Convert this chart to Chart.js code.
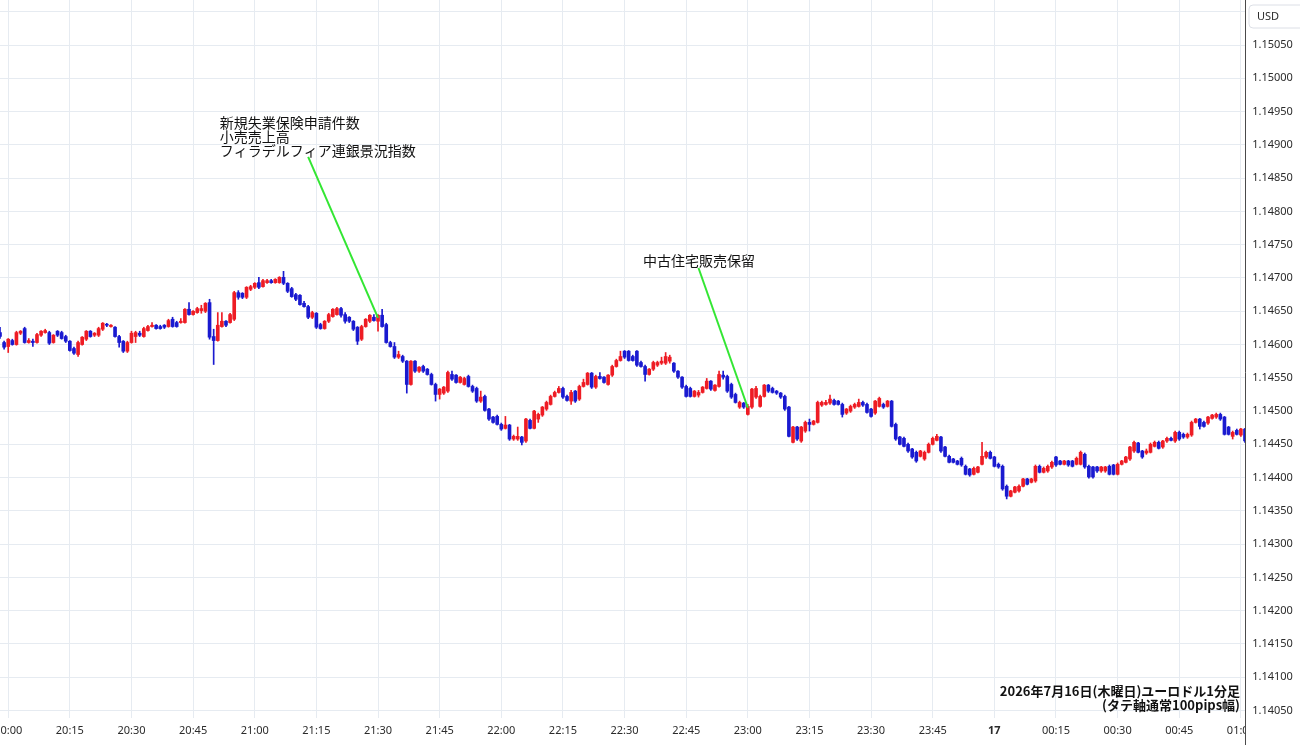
<!DOCTYPE html>
<html><head><meta charset="utf-8">
<script src="https://cdn.jsdelivr.net/npm/chart.js@4.4.1/dist/chart.umd.min.js"></script>
<style>html,body{margin:0;padding:0;background:#fff;}#wrap{width:1300px;height:745px;}</style>
</head><body><div id="wrap"><canvas id="c" width="1300" height="745"></canvas></div>
<script>
const times = [
"19:58","19:59",
"20:00","20:01","20:02","20:03","20:04","20:05","20:06","20:07","20:08","20:09","20:10","20:11","20:12","20:13","20:14","20:15","20:16","20:17","20:18","20:19","20:20","20:21","20:22","20:23","20:24","20:25","20:26","20:27","20:28","20:29","20:30","20:31","20:32","20:33","20:34","20:35","20:36","20:37","20:38","20:39","20:40","20:41","20:42","20:43","20:44","20:45","20:46","20:47","20:48","20:49","20:50","20:51","20:52","20:53","20:54","20:55","20:56","20:57","20:58","20:59",
"21:00","21:01","21:02","21:03","21:04","21:05","21:06","21:07","21:08","21:09","21:10","21:11","21:12","21:13","21:14","21:15","21:16","21:17","21:18","21:19","21:20","21:21","21:22","21:23","21:24","21:25","21:26","21:27","21:28","21:29","21:30","21:31","21:32","21:33","21:34","21:35","21:36","21:37","21:38","21:39","21:40","21:41","21:42","21:43","21:44","21:45","21:46","21:47","21:48","21:49","21:50","21:51","21:52","21:53","21:54","21:55","21:56","21:57","21:58","21:59",
"22:00","22:01","22:02","22:03","22:04","22:05","22:06","22:07","22:08","22:09","22:10","22:11","22:12","22:13","22:14","22:15","22:16","22:17","22:18","22:19","22:20","22:21","22:22","22:23","22:24","22:25","22:26","22:27","22:28","22:29","22:30","22:31","22:32","22:33","22:34","22:35","22:36","22:37","22:38","22:39","22:40","22:41","22:42","22:43","22:44","22:45","22:46","22:47","22:48","22:49","22:50","22:51","22:52","22:53","22:54","22:55","22:56","22:57","22:58","22:59",
"23:00","23:01","23:02","23:03","23:04","23:05","23:06","23:07","23:08","23:09","23:10","23:11","23:12","23:13","23:14","23:15","23:16","23:17","23:18","23:19","23:20","23:21","23:22","23:23","23:24","23:25","23:26","23:27","23:28","23:29","23:30","23:31","23:32","23:33","23:34","23:35","23:36","23:37","23:38","23:39","23:40","23:41","23:42","23:43","23:44","23:45","23:46","23:47","23:48","23:49","23:50","23:51","23:52","23:53","23:54","23:55","23:56","23:57","23:58","23:59",
"00:00","00:01","00:02","00:03","00:04","00:05","00:06","00:07","00:08","00:09","00:10","00:11","00:12","00:13","00:14","00:15","00:16","00:17","00:18","00:19","00:20","00:21","00:22","00:23","00:24","00:25","00:26","00:27","00:28","00:29","00:30","00:31","00:32","00:33","00:34","00:35","00:36","00:37","00:38","00:39","00:40","00:41","00:42","00:43","00:44","00:45","00:46","00:47","00:48","00:49","00:50","00:51","00:52","00:53","00:54","00:55","00:56","00:57","00:58","00:59",
"01:00","01:01"];

const opens = [
1.14618,1.14603,1.14597,1.14606,1.14600,1.14617,1.14624,1.14603,1.14605,1.14603,
1.14614,1.14618,1.14618,1.14603,1.14620,1.14618,1.14612,1.14605,1.14594,1.14585,
1.14600,1.14608,1.14620,1.14614,1.14614,1.14623,1.14630,1.14627,1.14626,1.14612,
1.14605,1.14590,1.14603,1.14612,1.14617,1.14612,1.14621,1.14627,1.14629,1.14627,
1.14629,1.14627,1.14638,1.14633,1.14633,1.14633,1.14653,1.14645,1.14648,1.14651,
1.14650,1.14663,1.14612,1.14606,1.14627,1.14635,1.14633,1.14638,1.14678,1.14677,
1.14671,1.14683,1.14686,1.14693,1.14687,1.14693,1.14696,1.14693,1.14693,1.14701,
1.14692,1.14684,1.14675,1.14674,1.14662,1.14657,1.14641,1.14647,1.14630,1.14624,
1.14635,1.14642,1.14645,1.14654,1.14645,1.14641,1.14635,1.14626,1.14608,1.14627,
1.14635,1.14641,1.14635,1.14644,1.14630,1.14603,1.14597,1.14581,1.14582,1.14575,
1.14540,1.14575,1.14560,1.14567,1.14563,1.14555,1.14540,1.14525,1.14527,1.14530,
1.14555,1.14554,1.14543,1.14540,1.14552,1.14537,1.14534,1.14515,1.14522,1.14503,
1.14491,1.14492,1.14480,1.14474,1.14479,1.14458,1.14458,1.14461,1.14455,1.14486,
1.14474,1.14488,1.14494,1.14503,1.14510,1.14522,1.14528,1.14534,1.14522,1.14515,
1.14530,1.14518,1.14537,1.14540,1.14557,1.14536,1.14552,1.14551,1.14540,1.14554,
1.14567,1.14576,1.14590,1.14590,1.14582,1.14590,1.14573,1.14567,1.14555,1.14563,
1.14569,1.14572,1.14572,1.14575,1.14572,1.14560,1.14551,1.14537,1.14534,1.14522,
1.14524,1.14528,1.14534,1.14545,1.14531,1.14537,1.14554,1.14552,1.14540,1.14525,
1.14506,1.14512,1.14495,1.14506,1.14521,1.14507,1.14522,1.14539,1.14534,1.14530,
1.14527,1.14522,1.14506,1.14453,1.14476,1.14455,1.14470,1.14483,1.14480,1.14483,
1.14509,1.14510,1.14512,1.14516,1.14515,1.14510,1.14497,1.14500,1.14506,1.14507,
1.14513,1.14510,1.14503,1.14497,1.14507,1.14510,1.14507,1.14515,1.14480,1.14461,
1.14459,1.14450,1.14443,1.14438,1.14432,1.14428,1.14438,1.14450,1.14456,1.14461,
1.14446,1.14432,1.14428,1.14425,1.14429,1.14417,1.14413,1.14405,1.14408,1.14420,
1.14431,1.14438,1.14431,1.14420,1.14417,1.14387,1.14372,1.14378,1.14380,1.14387,
1.14398,1.14393,1.14395,1.14417,1.14408,1.14410,1.14416,1.14431,1.14425,1.14420,
1.14425,1.14425,1.14420,1.14420,1.14435,1.14417,1.14416,1.14416,1.14410,1.14410,
1.14417,1.14419,1.14405,1.14420,1.14423,1.14428,1.14440,1.14452,1.14440,1.14437,
1.14438,1.14447,1.14453,1.14446,1.14455,1.14459,1.14455,1.14468,1.14465,1.14461,
1.14464,1.14483,1.14488,1.14483,1.14482,1.14489,1.14491,1.14495,1.14491,1.14476,
1.14462,1.14471,1.14464,1.14473];

const highs = [
1.14626,1.14605,1.14609,1.14608,1.14620,1.14621,1.14626,1.14609,1.14608,1.14617,
1.14621,1.14623,1.14620,1.14615,1.14621,1.14620,1.14614,1.14606,1.14596,1.14605,
1.14612,1.14621,1.14621,1.14618,1.14626,1.14633,1.14632,1.14630,1.14627,1.14614,
1.14606,1.14605,1.14620,1.14620,1.14620,1.14626,1.14629,1.14633,1.14630,1.14629,
1.14630,1.14638,1.14641,1.14635,1.14639,1.14654,1.14663,1.14651,1.14656,1.14659,
1.14663,1.14668,1.14623,1.14648,1.14648,1.14636,1.14647,1.14680,1.14681,1.14678,
1.14687,1.14689,1.14693,1.14701,1.14698,1.14698,1.14698,1.14699,1.14702,1.14710,
1.14693,1.14686,1.14677,1.14675,1.14665,1.14659,1.14650,1.14648,1.14632,1.14636,
1.14647,1.14654,1.14656,1.14656,1.14648,1.14642,1.14636,1.14627,1.14629,1.14639,
1.14645,1.14645,1.14645,1.14653,1.14632,1.14605,1.14603,1.14590,1.14584,1.14576,
1.14576,1.14576,1.14567,1.14569,1.14564,1.14557,1.14542,1.14534,1.14537,1.14560,
1.14560,1.14555,1.14552,1.14551,1.14554,1.14539,1.14536,1.14530,1.14524,1.14504,
1.14492,1.14494,1.14482,1.14492,1.14480,1.14464,1.14476,1.14462,1.14489,1.14488,
1.14501,1.14497,1.14507,1.14515,1.14524,1.14530,1.14537,1.14536,1.14524,1.14531,
1.14531,1.14539,1.14548,1.14558,1.14558,1.14554,1.14558,1.14552,1.14555,1.14569,
1.14578,1.14590,1.14591,1.14591,1.14584,1.14591,1.14575,1.14569,1.14564,1.14575,
1.14575,1.14581,1.14588,1.14584,1.14573,1.14561,1.14552,1.14539,1.14536,1.14531,
1.14531,1.14537,1.14549,1.14546,1.14540,1.14560,1.14560,1.14554,1.14542,1.14527,
1.14515,1.14513,1.14510,1.14534,1.14537,1.14524,1.14540,1.14540,1.14536,1.14531,
1.14528,1.14524,1.14507,1.14477,1.14477,1.14477,1.14485,1.14488,1.14486,1.14515,
1.14515,1.14516,1.14524,1.14518,1.14516,1.14512,1.14504,1.14509,1.14512,1.14518,
1.14515,1.14512,1.14504,1.14516,1.14521,1.14512,1.14516,1.14516,1.14482,1.14462,
1.14461,1.14452,1.14444,1.14440,1.14441,1.14440,1.14452,1.14461,1.14465,1.14462,
1.14447,1.14434,1.14429,1.14426,1.14431,1.14419,1.14414,1.14416,1.14417,1.14453,
1.14440,1.14440,1.14432,1.14422,1.14419,1.14389,1.14381,1.14387,1.14389,1.14399,
1.14399,1.14399,1.14419,1.14419,1.14416,1.14419,1.14425,1.14432,1.14426,1.14426,
1.14426,1.14426,1.14431,1.14440,1.14437,1.14419,1.14417,1.14417,1.14417,1.14417,
1.14419,1.14420,1.14422,1.14426,1.14432,1.14447,1.14455,1.14453,1.14441,1.14443,
1.14452,1.14455,1.14455,1.14456,1.14461,1.14461,1.14470,1.14470,1.14467,1.14467,
1.14485,1.14489,1.14489,1.14485,1.14492,1.14495,1.14497,1.14497,1.14492,1.14477,
1.14470,1.14473,1.14474,1.14474];

const lows = [
1.14609,1.14593,1.14588,1.14599,1.14599,1.14615,1.14602,1.14602,1.14597,1.14602,
1.14612,1.14617,1.14600,1.14602,1.14612,1.14608,1.14603,1.14590,1.14585,1.14582,
1.14599,1.14606,1.14611,1.14612,1.14612,1.14621,1.14627,1.14626,1.14611,1.14596,
1.14588,1.14588,1.14602,1.14603,1.14612,1.14611,1.14620,1.14626,1.14623,1.14623,
1.14624,1.14626,1.14626,1.14626,1.14632,1.14632,1.14644,1.14644,1.14647,1.14647,
1.14648,1.14608,1.14570,1.14605,1.14626,1.14627,1.14632,1.14636,1.14668,1.14669,
1.14669,1.14681,1.14684,1.14684,1.14686,1.14692,1.14692,1.14692,1.14692,1.14690,
1.14678,1.14671,1.14666,1.14659,1.14656,1.14639,1.14639,1.14624,1.14623,1.14623,
1.14633,1.14641,1.14644,1.14641,1.14632,1.14633,1.14621,1.14600,1.14606,1.14626,
1.14633,1.14635,1.14620,1.14626,1.14602,1.14596,1.14579,1.14579,1.14573,1.14527,
1.14539,1.14558,1.14558,1.14558,1.14554,1.14539,1.14515,1.14518,1.14525,1.14528,
1.14546,1.14542,1.14542,1.14539,1.14536,1.14528,1.14513,1.14513,1.14500,1.14486,
1.14482,1.14479,1.14471,1.14473,1.14456,1.14456,1.14456,1.14449,1.14453,1.14473,
1.14473,1.14483,1.14492,1.14501,1.14509,1.14521,1.14527,1.14519,1.14515,1.14510,
1.14513,1.14516,1.14536,1.14539,1.14534,1.14534,1.14548,1.14542,1.14539,1.14552,
1.14566,1.14575,1.14579,1.14575,1.14575,1.14567,1.14566,1.14545,1.14554,1.14561,
1.14567,1.14570,1.14570,1.14572,1.14558,1.14549,1.14534,1.14521,1.14521,1.14521,
1.14521,1.14527,1.14533,1.14531,1.14530,1.14536,1.14548,1.14528,1.14519,1.14512,
1.14504,1.14504,1.14494,1.14504,1.14519,1.14506,1.14521,1.14528,1.14527,1.14525,
1.14519,1.14501,1.14461,1.14452,1.14456,1.14453,1.14468,1.14470,1.14479,1.14482,
1.14507,1.14509,1.14510,1.14509,1.14509,1.14491,1.14495,1.14498,1.14504,1.14506,
1.14507,1.14497,1.14491,1.14495,1.14506,1.14504,1.14506,1.14476,1.14456,1.14449,
1.14446,1.14438,1.14429,1.14423,1.14431,1.14426,1.14437,1.14449,1.14455,1.14438,
1.14431,1.14422,1.14422,1.14419,1.14417,1.14404,1.14402,1.14404,1.14407,1.14419,
1.14429,1.14428,1.14416,1.14414,1.14381,1.14368,1.14371,1.14377,1.14378,1.14386,
1.14389,1.14392,1.14393,1.14407,1.14407,1.14408,1.14414,1.14417,1.14419,1.14419,
1.14417,1.14416,1.14419,1.14419,1.14414,1.14399,1.14399,1.14408,1.14408,1.14408,
1.14404,1.14404,1.14404,1.14419,1.14422,1.14426,1.14438,1.14437,1.14429,1.14435,
1.14437,1.14446,1.14443,1.14444,1.14453,1.14455,1.14453,1.14456,1.14459,1.14459,
1.14462,1.14482,1.14473,1.14476,1.14480,1.14488,1.14489,1.14486,1.14464,1.14464,
1.14458,1.14464,1.14462,1.14453];

const closes = [
1.14612,1.14596,1.14608,1.14600,1.14618,1.14620,1.14603,1.14606,1.14603,1.14615,
1.14620,1.14621,1.14602,1.14614,1.14614,1.14609,1.14605,1.14591,1.14587,1.14603,
1.14611,1.14620,1.14612,1.14617,1.14624,1.14632,1.14629,1.14629,1.14612,1.14603,
1.14590,1.14603,1.14617,1.14618,1.14614,1.14624,1.14627,1.14629,1.14624,1.14624,
1.14626,1.14636,1.14627,1.14627,1.14635,1.14653,1.14645,1.14650,1.14654,1.14654,
1.14662,1.14611,1.14606,1.14629,1.14635,1.14629,1.14645,1.14678,1.14671,1.14671,
1.14686,1.14687,1.14692,1.14686,1.14696,1.14696,1.14693,1.14698,1.14701,1.14692,
1.14680,1.14672,1.14668,1.14660,1.14657,1.14641,1.14648,1.14626,1.14624,1.14635,
1.14645,1.14653,1.14654,1.14644,1.14635,1.14635,1.14623,1.14605,1.14627,1.14638,
1.14644,1.14636,1.14644,1.14627,1.14603,1.14597,1.14581,1.14585,1.14575,1.14540,
1.14575,1.14560,1.14566,1.14560,1.14555,1.14540,1.14525,1.14533,1.14536,1.14558,
1.14548,1.14543,1.14551,1.14549,1.14537,1.14530,1.14515,1.14521,1.14501,1.14488,
1.14483,1.14480,1.14473,1.14479,1.14458,1.14462,1.14462,1.14453,1.14488,1.14474,
1.14500,1.14495,1.14506,1.14513,1.14522,1.14528,1.14534,1.14521,1.14516,1.14528,
1.14515,1.14537,1.14543,1.14557,1.14536,1.14552,1.14549,1.14543,1.14554,1.14567,
1.14576,1.14582,1.14581,1.14576,1.14576,1.14569,1.14567,1.14555,1.14563,1.14573,
1.14573,1.14575,1.14582,1.14581,1.14560,1.14551,1.14536,1.14522,1.14522,1.14530,
1.14528,1.14536,1.14545,1.14533,1.14539,1.14555,1.14551,1.14530,1.14521,1.14513,
1.14513,1.14506,1.14507,1.14533,1.14534,1.14522,1.14539,1.14530,1.14528,1.14527,
1.14521,1.14503,1.14462,1.14476,1.14458,1.14476,1.14483,1.14480,1.14485,1.14513,
1.14513,1.14513,1.14518,1.14510,1.14510,1.14495,1.14503,1.14507,1.14510,1.14513,
1.14509,1.14498,1.14492,1.14515,1.14519,1.14506,1.14515,1.14477,1.14458,1.14450,
1.14447,1.14440,1.14431,1.14425,1.14440,1.14438,1.14450,1.14459,1.14462,1.14440,
1.14432,1.14423,1.14423,1.14420,1.14419,1.14405,1.14404,1.14414,1.14416,1.14432,
1.14438,1.14429,1.14417,1.14416,1.14383,1.14372,1.14380,1.14386,1.14387,1.14398,
1.14390,1.14398,1.14417,1.14408,1.14414,1.14417,1.14423,1.14419,1.14420,1.14425,
1.14419,1.14417,1.14429,1.14438,1.14416,1.14401,1.14401,1.14410,1.14416,1.14416,
1.14405,1.14405,1.14420,1.14425,1.14431,1.14446,1.14453,1.14438,1.14431,1.14440,
1.14450,1.14453,1.14444,1.14455,1.14459,1.14456,1.14468,1.14458,1.14461,1.14465,
1.14483,1.14488,1.14477,1.14477,1.14491,1.14494,1.14495,1.14488,1.14465,1.14465,
1.14468,1.14465,1.14473,1.14455];

const tickTimes = ["20:00","20:15","20:30","20:45","21:00","21:15","21:30","21:45","22:00","22:15","22:30","22:45","23:00","23:15","23:30","23:45","00:00","00:15","00:30","00:45","01:00"];
const tickTexts = ["20:00","20:15","20:30","20:45","21:00","21:15","21:30","21:45","22:00","22:15","22:30","22:45","23:00","23:15","23:30","23:45","17","00:15","00:30","00:45","01:00"];
const priceTicks = [1.1405,1.1410,1.1415,1.1420,1.1425,1.1430,1.1435,1.1440,1.1445,1.1450,1.1455,1.1460,1.1465,1.1470,1.1475,1.1480,1.1485,1.1490,1.1495,1.1500,1.1505,1.1510];
const priceRange = [1.140388, 1.151177];

const events = [
  { lines: ["新規失業保険申請件数", "小売売上高", "フィラデルフィア連銀景況指数"],
    textAt: ["20:51", 1.14934], from: ["21:13", 1.14882], to: ["21:30", 1.14640] },
  { lines: ["中古住宅販売保留"],
    textAt: ["22:34", 1.14726], from: ["22:48", 1.14715], to: ["23:00", 1.14505] }
];
const currency = "USD";
const note = ["2026年7月16日(木曜日)ユーロドル1分足", "(タテ軸通常100pips幅)"];

const UP = '#ee1c24', DOWN = '#1a1ad0', GRID = '#e6ebf1';
const candleColors = opens.map((o, i) => closes[i] > o ? UP : DOWN);
const LATIN = '"Noto Sans", "DejaVu Sans", sans-serif';
const CJK = '"Noto Sans CJK JP", "Noto Sans", sans-serif';

const overlay = {
  id: 'overlay',
  afterDraw(chart) {
    const { ctx, chartArea: a, scales: { x, y } } = chart;
    const W = chart.width, H = chart.height;
    const xi = t => x.getPixelForValue(times.indexOf(t));
    ctx.save();
    ctx.strokeStyle = '#4a4a4a'; ctx.lineWidth = 1;
    ctx.beginPath(); ctx.moveTo(Math.round(a.right) + 0.5, 0); ctx.lineTo(Math.round(a.right) + 0.5, H); ctx.stroke();
    ctx.fillStyle = '#2b2b2b'; ctx.font = '11px ' + LATIN; ctx.textAlign = 'center'; ctx.textBaseline = 'middle';
    priceTicks.forEach(v => {
      const py = y.getPixelForValue(v);
      if (py > 34 && py < a.bottom) ctx.fillText(v.toFixed(5), (a.right + W) / 2, py);
    });
    const bx = a.right + 4, by = 5, bw = W - bx + 6, bh = 23;
    ctx.beginPath(); ctx.roundRect(bx, by, bw, bh, 4);
    ctx.fillStyle = '#fff'; ctx.fill(); ctx.strokeStyle = '#dcdfe6'; ctx.stroke();
    ctx.fillStyle = '#2b2b2b'; ctx.textAlign = 'left'; ctx.font = '11px ' + LATIN;
    ctx.fillText(currency, bx + 8, by + bh / 2);
    ctx.save();
    ctx.beginPath(); ctx.rect(0, a.bottom, a.right, H - a.bottom); ctx.clip();
    ctx.textAlign = 'center'; ctx.fillStyle = '#2b2b2b';
    tickTimes.forEach((t, i) => {
      ctx.font = (tickTexts[i] === '17' ? 'bold ' : '') + '11px ' + LATIN;
      ctx.fillText(tickTexts[i], xi(t), a.bottom + 13);
    });
    ctx.restore();
    ctx.save();
    ctx.beginPath(); ctx.rect(a.left, a.top, a.right - a.left, a.bottom - a.top); ctx.clip();
    events.forEach(ev => {
      ctx.strokeStyle = '#33e633'; ctx.lineWidth = 2;
      ctx.beginPath();
      ctx.moveTo(xi(ev.from[0]), y.getPixelForValue(ev.from[1]));
      ctx.lineTo(xi(ev.to[0]), y.getPixelForValue(ev.to[1]));
      ctx.stroke();
      ctx.fillStyle = '#111'; ctx.font = '14px ' + CJK; ctx.textAlign = 'left'; ctx.textBaseline = 'middle';
      const tx = xi(ev.textAt[0]) + 2, ty = y.getPixelForValue(ev.textAt[1]);
      ev.lines.forEach((s, j) => ctx.fillText(s, tx, ty + j * 14));
    });
    ctx.fillStyle = '#111'; ctx.font = 'bold 13px ' + CJK; ctx.textAlign = 'right';
    ctx.fillText(note[0], a.right - 5, a.bottom - 27);
    ctx.fillText(note[1], a.right - 5, a.bottom - 13);
    ctx.restore();
    ctx.restore();
  }
};

new Chart(document.getElementById('c'), {
  type: 'bar',
  data: {
    labels: times,
    datasets: [
      { label: 'wick', data: lows.map((l, i) => [l, highs[i]]), backgroundColor: candleColors,
        barThickness: 1, grouped: false, order: 2 },
      { label: 'body', data: opens.map((o, i) => [o, closes[i]]), backgroundColor: candleColors,
        barThickness: 3, grouped: false, minBarLength: 1, order: 1 }
    ]
  },
  options: {
    responsive: false, animation: false, events: [], devicePixelRatio: 1,
    layout: { padding: 0 },
    plugins: { legend: { display: false }, tooltip: { enabled: false } },
    scales: {
      x: {
        type: 'category', offset: false,
        grid: { offset: false, color: GRID, drawTicks: false },
        border: { display: false },
        ticks: { display: false },
        afterBuildTicks: s => { s.ticks = tickTimes.map(t => ({ value: times.indexOf(t) })); },
        afterFit: s => { s.height = 27; }
      },
      y: {
        position: 'right', min: priceRange[0], max: priceRange[1],
        grid: { color: GRID, drawTicks: false },
        border: { display: false },
        ticks: { display: false },
        afterBuildTicks: s => { s.ticks = priceTicks.map(v => ({ value: v })); },
        afterFit: s => { s.width = 55; }
      }
    }
  },
  plugins: [overlay]
});
</script>
</body></html>
